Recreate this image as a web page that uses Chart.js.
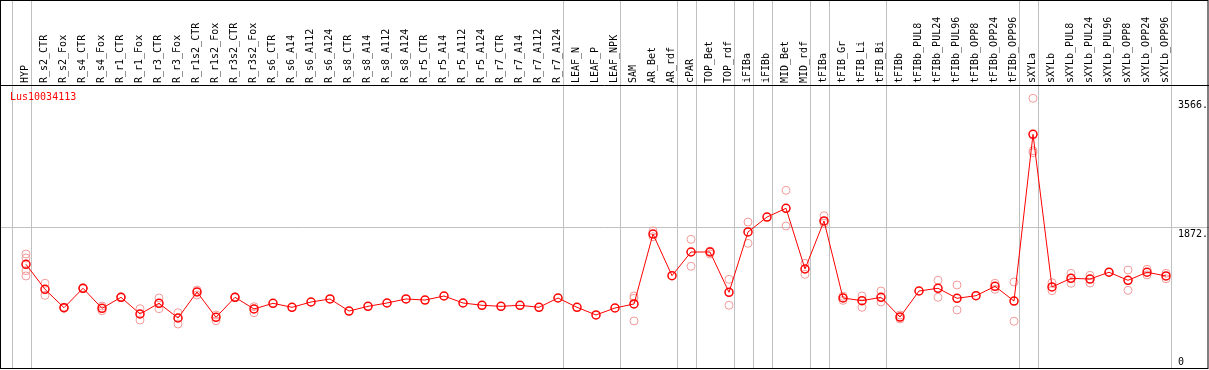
<!DOCTYPE html>
<html>
<head>
<meta charset="utf-8">
<script src="https://cdn.jsdelivr.net/npm/chart.js@4"></script>
<style>
  html, body { margin: 0; padding: 0; background: #fff; }
  #wrap { width: 1209px; height: 370px; }
</style>
</head>
<body>
<div id="wrap"><canvas id="exprChart" width="1209" height="370"></canvas></div>
<script>
// Gene and sample names
const geneId = 'Lus10034113';
const samples = [
  'HYP', 'R_s2_CTR', 'R_s2_Fox', 'R_s4_CTR', 'R_s4_Fox', 'R_r1_CTR', 'R_r1_Fox', 'R_r3_CTR', 'R_r3_Fox',
  'R_r1s2_CTR', 'R_r1s2_Fox', 'R_r3s2_CTR', 'R_r3s2_Fox', 'R_s6_CTR', 'R_s6_A14', 'R_s6_A112', 'R_s6_A124',
  'R_s8_CTR', 'R_s8_A14', 'R_s8_A112', 'R_s8_A124', 'R_r5_CTR', 'R_r5_A14', 'R_r5_A112', 'R_r5_A124',
  'R_r7_CTR', 'R_r7_A14', 'R_r7_A112', 'R_r7_A124', 'LEAF_N', 'LEAF_P', 'LEAF_NPK', 'SAM', 'AR_Bet', 'AR_rdf',
  'cPAR', 'TOP_Bet', 'TOP_rdf', 'iFIBa', 'iFIBb', 'MID_Bet', 'MID_rdf', 'tFIBa', 'tFIB_Gr', 'tFIB_Li', 'tFIB_Bi',
  'tFIBb', 'tFIBb_PUL8', 'tFIBb_PUL24', 'tFIBb_PUL96', 'tFIBb_OPP8', 'tFIBb_OPP24', 'tFIBb_OPP96', 'sXYLa',
  'sXYLb', 'sXYLb_PUL8', 'sXYLb_PUL24', 'sXYLb_PUL96', 'sXYLb_OPP8', 'sXYLb_OPP24', 'sXYLb_OPP96'
];

// Mean expression per sample
const meanValues = [
  1380, 1050, 808, 1064, 800, 945, 725, 866, 672,
  1015, 681, 945, 791, 866, 813, 883, 923,
  764, 826, 870, 923, 909, 962, 870, 840,
  826, 840, 813, 936, 813, 712, 804, 857, 1779, 1230,
  1542, 1542, 1011, 1806, 2003, 2118, 1318, 1951, 936, 900, 945,
  685, 1028, 1064, 932, 966, 1090, 896, 3093,
  1081, 1195, 1186, 1275, 1169, 1275, 1226
];

// Replicate values per sample (light circles)
const replicateValues = [
  [1516, 1463, 1296, 1226], [1130, 971], [800, 816], [1058, 1070], [830, 768], [940, 950], [795, 646], [936, 795], [742, 593],
  [1041, 975], [712, 637], [940, 950], [821, 742], [], [], [], [],
  [], [], [], [], [], [], [], [],
  [], [], [], [], [], [], [], [962, 932, 633], [1819, 1744], [],
  [1709, 1354], [1555, 1516], [1182, 840], [1937, 1656], [], [2355, 1885], [1393, 1248], [2020, 1920], [905, 960], [962, 813], [1028, 883],
  [712, 660], [], [1169, 945], [1107, 778], [], [1130, 1050], [1147, 629], [3568, 2877, 2851],
  [1137, 1032], [1261, 1130], [1235, 1133], [1275], [1305, 1037], [1314, 1240], [1261, 1190]
];

// Right-hand axis labels
const axisTicks = [0, 1872, 3566];

// Samples that close a group (grey separator after them)
const groupEnds = ['HYP', 'R_r7_A124', 'LEAF_NPK', 'AR_rdf', 'cPAR', 'TOP_rdf', 'iFIBa', 'iFIBb',
  'MID_rdf', 'tFIBa', 'tFIB_Bi', 'tFIBb_OPP96', 'sXYLa', 'sXYLb_OPP96'];

const FONT = '10px "DejaVu Sans Mono", "Liberation Mono", monospace';
const GRID = '#c0c0c0';

// build replicate points as {x, y}
const replicatePoints = [];
replicateValues.forEach((reps, i) => {
  reps.forEach(v => replicatePoints.push({ x: samples[i], y: v }));
});

const framePlugin = {
  id: 'frame',
  beforeDatasetsDraw(chart) {
    const { ctx, scales: { x, y } } = chart;
    const W = chart.width;
    const step = x.getPixelForValue(1) - x.getPixelForValue(0);
    ctx.save();
    ctx.strokeStyle = GRID;
    ctx.lineWidth = 1;
    // group separators
    const seps = [x.getPixelForValue(0) - step + 4.7];
    groupEnds.forEach(name => seps.push(x.getPixelForValue(samples.indexOf(name)) + 4.7));
    seps.forEach(px => {
      const xx = Math.round(px) + 0.5;
      ctx.beginPath();
      ctx.moveTo(xx, 0);
      ctx.lineTo(xx, 369);
      ctx.stroke();
    });
    // horizontal grid at middle ticks
    axisTicks.filter(v => v > 0 && v < Math.max(...axisTicks)).forEach(v => {
      const yy = Math.round(y.getPixelForValue(v)) + 0.5;
      ctx.beginPath();
      ctx.moveTo(0, yy);
      ctx.lineTo(W, yy);
      ctx.stroke();
    });
    ctx.restore();
  },
  afterDraw(chart) {
    const { ctx, scales: { x, y }, chartArea } = chart;
    ctx.save();
    ctx.font = FONT;
    ctx.fillStyle = '#000';
    // rotated sample labels
    samples.forEach((name, i) => {
      ctx.save();
      ctx.translate(Math.round(x.getPixelForValue(i)) - 1, 83);
      ctx.rotate(-Math.PI / 2);
      ctx.textAlign = 'left';
      ctx.textBaseline = 'middle';
      ctx.fillText(name, 0, 0);
      ctx.restore();
    });
    // gene id
    ctx.fillStyle = 'red';
    ctx.textAlign = 'left';
    ctx.textBaseline = 'middle';
    ctx.fillText(geneId, 10, 97);
    // axis labels on the right
    ctx.fillStyle = '#000';
    axisTicks.forEach(v => {
      let yy = y.getPixelForValue(v) + 7;
      yy = Math.min(yy, chartArea.bottom - 7);
      ctx.fillText(v === 0 ? '0' : v + '.', 1178, yy);
    });
    // frame
    ctx.strokeStyle = '#000';
    ctx.lineWidth = 1;
    ctx.strokeRect(0.5, 0.5, chart.width - 1.5, 368);
    ctx.beginPath();
    ctx.moveTo(0, 85.5);
    ctx.lineTo(chart.width, 85.5);
    ctx.stroke();
    ctx.restore();
  }
};

const ctx = document.getElementById('exprChart').getContext('2d');
new Chart(ctx, {
  type: 'line',
  data: {
    labels: samples,
    datasets: [{
      label: 'mean',
      data: meanValues,
      borderColor: 'red',
      borderWidth: 1,
      tension: 0,
      pointRadius: 4,
      pointBorderColor: 'red',
      pointBackgroundColor: 'rgba(0,0,0,0)',
      pointBorderWidth: 1.5,
      clip: false,
      order: 0
    }, {
      label: 'replicates',
      data: replicatePoints,
      showLine: false,
      pointRadius: 4,
      pointBorderColor: '#f29b9b',
      pointBackgroundColor: 'rgba(0,0,0,0)',
      pointBorderWidth: 1,
      clip: false,
      order: 1
    }]
  },
  options: {
    responsive: false,
    animation: false,
    devicePixelRatio: 1,
    layout: { autoPadding: false, padding: { left: 26, right: 43, top: 86, bottom: 1 } },
    scales: {
      x: { type: 'category', display: false, offset: false },
      y: { display: false, min: 0, max: 3730 }
    },
    plugins: {
      legend: { display: false },
      tooltip: { enabled: false }
    }
  },
  plugins: [framePlugin]
});
</script>
</body>
</html>
